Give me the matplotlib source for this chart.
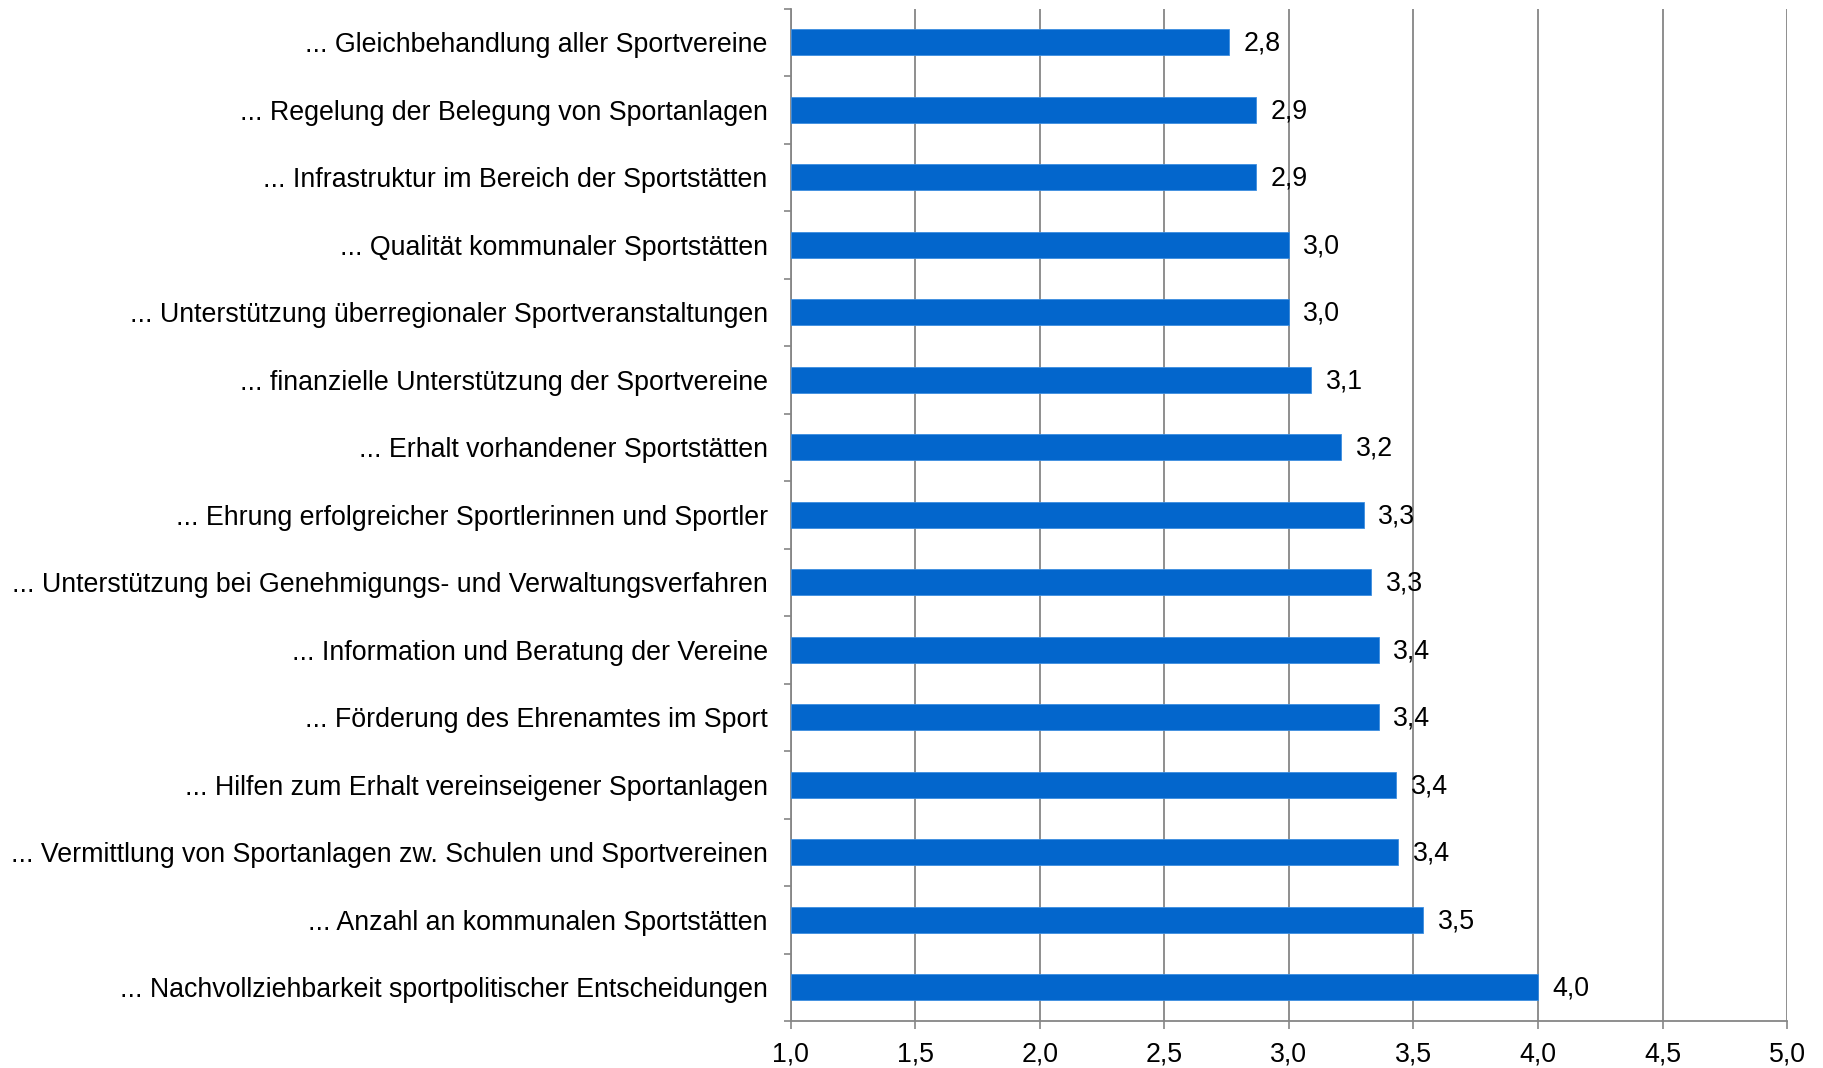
import matplotlib
matplotlib.use("Agg")
import matplotlib.pyplot as plt
import numpy as np

plt.rcParams['font.family'] = ['Liberation Sans', 'DejaVu Sans']

categories = [
    "... Gleichbehandlung aller Sportvereine",
    "... Regelung der Belegung von Sportanlagen",
    "... Infrastruktur im Bereich der Sportstätten",
    "... Qualität kommunaler Sportstätten",
    "... Unterstützung überregionaler Sportveranstaltungen",
    "... finanzielle Unterstützung der Sportvereine",
    "... Erhalt vorhandener Sportstätten",
    "... Ehrung erfolgreicher Sportlerinnen und Sportler",
    "... Unterstützung bei Genehmigungs- und Verwaltungsverfahren",
    "... Information und Beratung der Vereine",
    "... Förderung des Ehrenamtes im Sport",
    "... Hilfen zum Erhalt vereinseigener Sportanlagen",
    "... Vermittlung von Sportanlagen zw. Schulen und Sportvereinen",
    "... Anzahl an kommunalen Sportstätten",
    "... Nachvollziehbarkeit sportpolitischer Entscheidungen",
]
values = [2.76, 2.87, 2.87, 3.00, 3.00, 3.09, 3.21, 3.30, 3.33, 3.36, 3.36, 3.43, 3.44, 3.54, 4.00]
x_ticks = [1.0, 1.5, 2.0, 2.5, 3.0, 3.5, 4.0, 4.5, 5.0]

base = 1.0
fs = 19.3

fig = plt.figure(figsize=(18.23, 10.68), dpi=100)
ax = fig.add_axes([0.4337, 0.044, 0.9803 - 0.4337, 0.992 - 0.044])

y = np.arange(len(categories))
lengths = [v - base for v in values]
ax.barh(y, lengths, left=base, height=0.385, color='#0366CC', edgecolor='#3d8ee0', linewidth=0.6, zorder=3)

for yi, v in zip(y, values):
    ax.annotate(f"{v:.1f}".replace('.', ','), xy=(v, yi), xytext=(10.5, -1),
                textcoords='offset points', ha='left', va='center', fontsize=fs, color='black', zorder=4)

ax.set_xlim(1.0, 5.0)
ax.set_ylim(len(categories) - 0.5, -0.5)
ax.set_xticks(x_ticks)
ax.set_xticklabels([f"{t:.1f}".replace('.', ',') for t in x_ticks], fontsize=fs)
ax.set_yticks(y)
ax.set_yticklabels(categories, fontsize=fs)
ax.set_yticks(np.arange(-0.5, len(categories)), minor=True)

ax.tick_params(axis='y', which='major', length=0, pad=16.5)
ax.tick_params(axis='y', which='minor', length=5, width=1.2, color='#868686', direction='out')
ax.tick_params(axis='x', which='major', length=6, width=1.2, color='#868686', pad=9)

ax.grid(axis='x', color='#868686', linewidth=1.3, zorder=0)
ax.set_axisbelow(True)
for s in ['top', 'right']:
    ax.spines[s].set_visible(False)
for s in ['left', 'bottom']:
    ax.spines[s].set_color('#868686')
    ax.spines[s].set_linewidth(1.3)

fig.savefig('out.png', dpi=100)
